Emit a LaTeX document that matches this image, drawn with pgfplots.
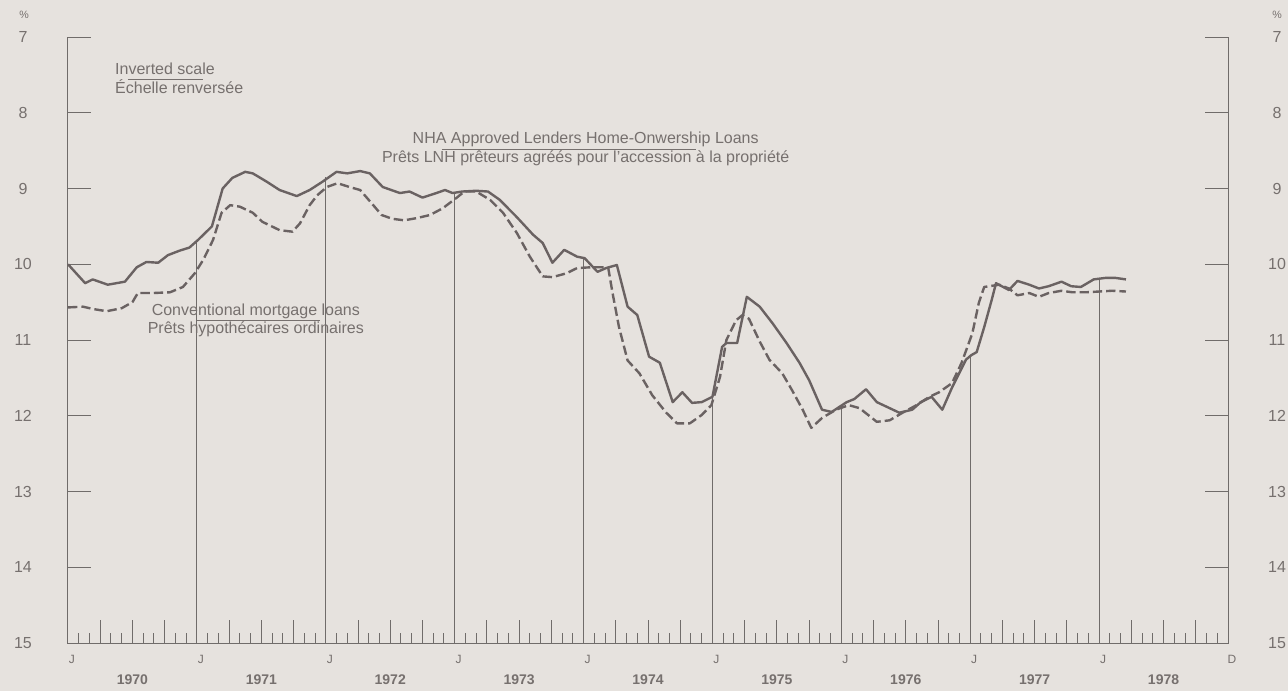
\documentclass[border=0pt]{standalone}
\usepackage{pgfplots}
\pgfplotsset{compat=1.18}
\usepackage{pgfplotstable}
\usepackage{fontspec}
\setmainfont{Liberation Sans}

\definecolor{bg}{RGB}{230,226,222}
\definecolor{ln}{RGB}{106,98,98}
\definecolor{tx}{RGB}{118,112,110}
\definecolor{ax}{RGB}{112,108,106}

% months since Jan 1970, rate in %
\pgfplotstableread{
m v
0 10.00
1.6 10.25
2.3 10.20
3.7 10.27
5.3 10.23
6.4 10.04
7.3 9.97
8.4 9.98
9.3 9.88
10.4 9.82
11.3 9.78
12.1 9.68
13.4 9.50
14.4 9.00
15.3 8.86
16.5 8.78
17.2 8.80
18.5 8.91
19.7 9.02
21.3 9.10
22.5 9.02
23.7 8.91
25.0 8.78
26.0 8.80
27.2 8.77
28.1 8.80
29.3 8.98
30.9 9.06
31.8 9.04
33.0 9.12
34.3 9.06
35.1 9.02
35.8 9.06
36.7 9.04
38.0 9.03
39.1 9.04
40.2 9.15
41.8 9.38
43.3 9.61
44.2 9.72
45.1 9.98
46.2 9.81
47.4 9.90
48.1 9.92
48.7 10.01
49.3 10.10
50.1 10.05
51.1 10.01
52.1 10.56
53.0 10.67
54.1 11.22
55.1 11.30
56.3 11.82
57.2 11.69
58.1 11.83
59.0 11.82
60.0 11.75
60.9 11.09
61.3 11.04
62.3 11.04
63.2 10.43
64.4 10.56
65.6 10.78
66.9 11.04
68.1 11.30
69.0 11.53
70.2 11.92
71.1 11.95
72.5 11.82
73.2 11.78
74.3 11.65
75.3 11.82
76.5 11.90
77.4 11.96
78.6 11.92
79.4 11.82
80.4 11.75
81.4 11.92
82.3 11.63
83.6 11.26
84.1 11.20
84.6 11.16
85.3 10.83
86.0 10.47
86.4 10.25
87.6 10.34
88.4 10.22
89.5 10.27
90.4 10.32
91.3 10.29
92.5 10.23
93.4 10.29
94.3 10.30
95.5 10.20
96.6 10.18
97.5 10.18
98.5 10.20
}\nha

\pgfplotstableread{
m v
0 10.57
1.4 10.56
2.3 10.59
3.6 10.62
5.0 10.58
6.0 10.50
6.5 10.38
7.9 10.38
9.5 10.37
10.7 10.30
11.8 10.12
12.6 9.94
13.5 9.68
14.3 9.32
15.1 9.22
16.0 9.24
17.2 9.32
18.1 9.44
19.7 9.55
20.9 9.57
21.6 9.46
22.5 9.22
23.2 9.09
24.1 8.98
25.1 8.93
26.2 8.98
27.2 9.02
28.3 9.20
29.2 9.35
30.2 9.40
31.3 9.42
32.5 9.39
33.7 9.35
34.9 9.26
36.2 9.12
36.9 9.04
38.0 9.04
39.3 9.15
40.5 9.32
41.8 9.59
43.0 9.90
44.2 10.16
45.1 10.17
46.4 10.12
47.4 10.05
48.7 10.04
49.8 10.04
50.3 10.05
50.7 10.38
51.3 10.83
52.1 11.27
53.2 11.44
54.4 11.73
55.7 11.96
56.7 12.10
57.9 12.10
59.0 11.99
59.9 11.86
60.7 11.49
61.3 11.00
62.2 10.74
62.8 10.67
63.4 10.72
64.4 11.02
65.3 11.26
66.5 11.44
67.4 11.66
68.4 11.92
69.2 12.16
70.2 12.03
71.5 11.92
72.7 11.86
73.7 11.90
75.3 12.08
76.5 12.06
77.7 11.96
79.0 11.86
80.2 11.75
81.1 11.69
82.3 11.57
83.2 11.30
84.2 10.91
84.8 10.51
85.3 10.30
86.7 10.27
87.6 10.32
88.4 10.41
89.5 10.38
90.4 10.43
91.3 10.38
92.5 10.35
93.5 10.37
94.8 10.37
96.0 10.36
97.2 10.35
98.5 10.36
}\conv

\tikzset{note/.style={font=\fontsize{12}{14}\selectfont, text=tx, inner sep=0pt}}

\begin{document}
\begin{tikzpicture}
\fill[bg] (0,0) rectangle (966pt,518.25pt);
\useasboundingbox (0,0) rectangle (966pt,518.25pt);

\begin{axis}[
  at={(51pt,36pt)}, anchor=south west,
  scale only axis, width=870pt, height=454.5pt,
  xmin=0, xmax=108, ymin=7, ymax=15, y dir=reverse,
  clip=false,
  axis line style={draw=none},
  tick align=inside,
  every tick/.style={ax, line width=0.75pt},
  major tick length=17pt, minor tick length=7.5pt,
  ytick={7,...,15}, ytick pos=both, yticklabel pos=left,
  xtick={0,3,...,108}, minor xtick={0,1,...,108},
  xtick pos=left, xticklabel pos=left,
  xticklabels={J,,,,J,,,,J,,,,J,,,,J,,,,J,,,,J,,,,J,,,,J,,,,D},
  xticklabel style={font=\fontsize{9}{10}\selectfont, text=tx, anchor=center, xshift=3pt, yshift=-12pt},
  yticklabel style={font=\fontsize{12}{14}\selectfont, text=tx, anchor=center, xshift=-33.75pt},
  /pgf/number format/assume math mode=true,
  extra x ticks={6,18,...,102},
  extra x tick labels={1970,1971,1972,1973,1974,1975,1976,1977,1978},
  extra x tick style={major tick length=0pt, xticklabel style={font=\fontsize{10.5}{12}\selectfont\bfseries, yshift=-15.75pt, xshift=-3pt}},
]
% frame: left, bottom, right (no top line)
\draw[ax, line width=0.75pt] (rel axis cs:0,1) -- (rel axis cs:0,0) -- (rel axis cs:1,0) -- (rel axis cs:1,1);

% January drop lines
\addplot[ax, line width=0.75pt, unbounded coords=jump] coordinates {
  (12,9.69) (12,15) (12,nan)
  (24,8.85) (24,15) (24,nan)
  (36,9.05) (36,15) (36,nan)
  (48,9.92) (48,15) (48,nan)
  (60,11.75) (60,15) (60,nan)
  (72,11.86) (72,15) (72,nan)
  (84,11.20) (84,15) (84,nan)
  (96,10.19) (96,15)
};

\addplot[ln, line width=1.8pt, line join=round] table[x=m, y=v] {\nha};
\addplot[ln, line width=1.8pt, line join=round, dash pattern=on 7pt off 3pt] table[x=m, y=v] {\conv};

% series labels
\node[note, anchor=base west] at (axis cs:4.37,7.50) {Inverted scale};
\node[note, anchor=base west] at (axis cs:4.37,7.75) {Échelle renversée};
\draw[tx, line width=0.6pt] (axis cs:5.58,7.555) -- (axis cs:12.56,7.555);

\node[note, anchor=base] at (axis cs:48.2,8.41) {NHA Approved Lenders Home-Onwership Loans};
\node[note, anchor=base] at (axis cs:48.2,8.66) {Prêts LNH prêteurs agréés pour l'accession à la propriété};
\draw[tx, line width=0.6pt] (axis cs:34.8,8.49) -- (axis cs:58.5,8.49);

\node[note, anchor=base] at (axis cs:17.49,10.67) {Conventional mortgage loans};
\node[note, anchor=base] at (axis cs:17.49,10.92) {Prêts hypothécaires ordinaires};
\draw[tx, line width=0.6pt] (axis cs:12.0,10.745) -- (axis cs:23.44,10.745);
\end{axis}

% right-hand tick labels
\begin{axis}[
  at={(51pt,36pt)}, anchor=south west,
  scale only axis, width=870pt, height=454.5pt,
  xmin=0, xmax=108, ymin=7, ymax=15, y dir=reverse,
  axis line style={draw=none}, xtick=\empty,
  ytick={7,...,15}, major tick length=0pt,
  yticklabel pos=right,
  yticklabel style={font=\fontsize{12}{14}\selectfont, text=tx, anchor=center, xshift=36.75pt},
  /pgf/number format/assume math mode=true,
]
\end{axis}

\node[font=\fontsize{8}{9}\selectfont, text=tx] at (18pt,507pt) {\%};
\node[font=\fontsize{8}{9}\selectfont, text=tx] at (957.75pt,507pt) {\%};
\end{tikzpicture}
\end{document}
